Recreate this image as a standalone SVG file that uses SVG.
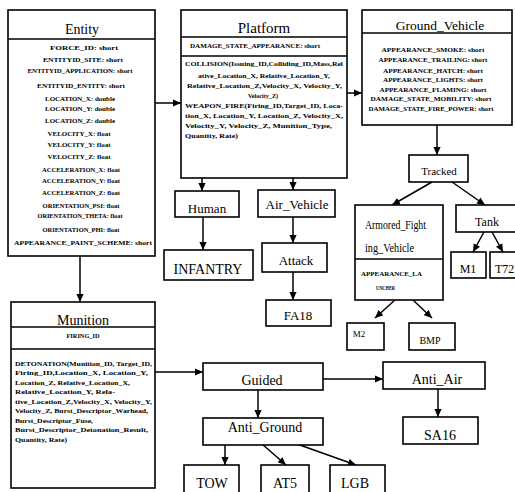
<svg xmlns="http://www.w3.org/2000/svg" width="515" height="492" viewBox="0 0 515 492">
  <style>
    .box { fill: #fff; stroke: #000; stroke-width: 1.6; }
    .div { stroke: #000; stroke-width: 1.4; fill: none; }
    .edge { stroke: #000; stroke-width: 1.5; fill: none; marker-end: url(#arrow); }
    text { font-family: "Liberation Serif", "Times New Roman", "DejaVu Serif", serif; fill: #000; }
    .title { text-anchor: middle; }
    .label { text-anchor: middle; }
    .attr { font-size: 7px; font-weight: bold; text-anchor: middle; }
    .op { font-size: 6.8px; font-weight: bold; }
  </style>
  <defs>
    <marker id="arrow" viewBox="0 0 10 10" refX="10" refY="5" markerWidth="8" markerHeight="8" markerUnits="userSpaceOnUse" orient="auto">
      <path d="M0,0.5 L10,5 L0,9.5 z" fill="#000"/>
    </marker>
  </defs>

  <rect width="515" height="492" fill="#fff"/>

  <!-- Connectors -->
  <g id="connectors">
    <line class="edge" x1="155" y1="103" x2="181" y2="103"/>
    <line class="edge" x1="347" y1="93" x2="362" y2="93"/>
    <line class="edge" x1="80" y1="256" x2="80" y2="302"/>
    <line class="edge" x1="202" y1="178" x2="202" y2="191"/>
    <line class="edge" x1="293" y1="178" x2="293" y2="190"/>
    <line class="edge" x1="203" y1="217" x2="203" y2="250"/>
    <line class="edge" x1="293" y1="217" x2="293" y2="243"/>
    <line class="edge" x1="293" y1="272" x2="293" y2="300"/>
    <line class="edge" x1="437" y1="125" x2="437" y2="155"/>
    <line class="edge" x1="432" y1="182" x2="392" y2="205"/>
    <line class="edge" x1="452" y1="182" x2="485" y2="205"/>
    <line class="edge" x1="484" y1="232" x2="473" y2="252"/>
    <line class="edge" x1="492" y1="232" x2="503" y2="252"/>
    <line class="edge" x1="395" y1="300" x2="375" y2="318"/>
    <line class="edge" x1="413" y1="300" x2="432" y2="318"/>
    <line class="edge" x1="155" y1="372" x2="203" y2="372"/>
    <line class="edge" x1="323" y1="379" x2="383" y2="379"/>
    <line class="edge" x1="258" y1="390" x2="258" y2="418"/>
    <line class="edge" x1="438" y1="389" x2="438" y2="417"/>
    <line class="edge" x1="225" y1="445" x2="225" y2="465"/>
    <line class="edge" x1="262" y1="444" x2="286" y2="465"/>
    <line class="edge" x1="297" y1="444" x2="356" y2="465"/>
  </g>

  <!-- Entity class -->
  <g id="entity">
    <rect class="box" x="8" y="10" width="147" height="246"/>
    <line class="div" x1="8" y1="39" x2="155" y2="39"/>
    <text class="title" x="82" y="34" style="font-size:14px">Entity</text>
    <text class="attr" x="84" y="49.5" textLength="68" lengthAdjust="spacingAndGlyphs">FORCE_ID: short</text>
    <text class="attr" x="83" y="61.5" textLength="80" lengthAdjust="spacingAndGlyphs">ENTITYID_SITE: short</text>
    <text class="attr" x="80" y="72.5" textLength="105" lengthAdjust="spacingAndGlyphs">ENTITYID_APPLICATION: short</text>
    <text class="attr" x="81" y="87.5" textLength="88" lengthAdjust="spacingAndGlyphs">ENTITYID_ENTITY: short</text>
    <text class="attr" x="80" y="100.5" textLength="70" lengthAdjust="spacingAndGlyphs">LOCATION_X: double</text>
    <text class="attr" x="80" y="110.5" textLength="70" lengthAdjust="spacingAndGlyphs">LOCATION_Y: double</text>
    <text class="attr" x="80" y="122.5" textLength="70" lengthAdjust="spacingAndGlyphs">LOCATION_Z: double</text>
    <text class="attr" x="79" y="135.5" textLength="63" lengthAdjust="spacingAndGlyphs">VELOCITY_X: float</text>
    <text class="attr" x="79" y="146.5" textLength="63" lengthAdjust="spacingAndGlyphs">VELOCITY_Y: float</text>
    <text class="attr" x="79" y="158.5" textLength="63" lengthAdjust="spacingAndGlyphs">VELOCITY_Z: float</text>
    <text class="attr" x="81" y="171.5" textLength="78" lengthAdjust="spacingAndGlyphs">ACCELERATION_X: float</text>
    <text class="attr" x="81" y="182.5" textLength="78" lengthAdjust="spacingAndGlyphs">ACCELERATION_Y: float</text>
    <text class="attr" x="81" y="194.5" textLength="78" lengthAdjust="spacingAndGlyphs">ACCELERATION_Z: float</text>
    <text class="attr" x="81" y="207.5" textLength="77" lengthAdjust="spacingAndGlyphs">ORIENTATION_PSI: float</text>
    <text class="attr" x="80" y="217.5" textLength="85" lengthAdjust="spacingAndGlyphs">ORIENTATION_THETA: float</text>
    <text class="attr" x="81" y="231.5" textLength="77" lengthAdjust="spacingAndGlyphs">ORIENTATION_PHI: float</text>
    <text class="attr" x="83" y="244.5" textLength="138" lengthAdjust="spacingAndGlyphs">APPEARANCE_PAINT_SCHEME: short</text>
  </g>

  <!-- Platform class -->
  <g id="platform">
    <rect class="box" x="181" y="10" width="166" height="168"/>
    <line class="div" x1="181" y1="37" x2="347" y2="37"/>
    <line class="div" x1="181" y1="56" x2="347" y2="56"/>
    <text class="title" x="264" y="33" style="font-size:15px">Platform</text>
    <text class="attr" x="255" y="47.5" textLength="130" lengthAdjust="spacingAndGlyphs">DAMAGE_STATE_APPEARANCE: short</text>
    <text class="op" x="185" y="65.5" textLength="158" lengthAdjust="spacingAndGlyphs">COLLISION(Issuing_ID,Colliding_ID,Mass,Rel</text>
    <text class="op" x="198" y="77.5" textLength="132" lengthAdjust="spacingAndGlyphs">ative_Location_X, Relative_Location_Y,</text>
    <text class="op" x="187" y="87.5" textLength="155" lengthAdjust="spacingAndGlyphs">Relative_Location_Z,Velocity_X, Velocity_Y,</text>
    <text class="op" x="248" y="97.5" textLength="30" lengthAdjust="spacingAndGlyphs">Velocity_Z)</text>
    <text class="op" x="185" y="107.5" textLength="158" lengthAdjust="spacingAndGlyphs">WEAPON_FIRE(Firing_ID,Target_ID, Loca-</text>
    <text class="op" x="185" y="117.5" textLength="158" lengthAdjust="spacingAndGlyphs">tion_X, Location_Y, Location_Z, Velocity_X,</text>
    <text class="op" x="185" y="127.5" textLength="147" lengthAdjust="spacingAndGlyphs">Velocity_Y, Velocity_Z, Munition_Type,</text>
    <text class="op" x="185" y="137.5" textLength="53" lengthAdjust="spacingAndGlyphs">Quantity, Rate)</text>
  </g>

  <!-- Ground_Vehicle class -->
  <g id="ground-vehicle">
    <rect class="box" x="362" y="10" width="150" height="115"/>
    <line class="div" x1="362" y1="33" x2="512" y2="33"/>
    <text class="title" x="440" y="30" style="font-size:13.5px">Ground_Vehicle</text>
    <text class="attr" x="433" y="51.5" textLength="103" lengthAdjust="spacingAndGlyphs">APPEARANCE_SMOKE: short</text>
    <text class="attr" x="433" y="61.5" textLength="109" lengthAdjust="spacingAndGlyphs">APPEARANCE_TRAILING: short</text>
    <text class="attr" x="433" y="72.5" textLength="100" lengthAdjust="spacingAndGlyphs">APPEARANCE_HATCH: short</text>
    <text class="attr" x="433" y="81.5" textLength="100" lengthAdjust="spacingAndGlyphs">APPEARANCE_LIGHTS: short</text>
    <text class="attr" x="433" y="91.5" textLength="107" lengthAdjust="spacingAndGlyphs">APPEARANCE_FLAMING: short</text>
    <text class="attr" x="431" y="100.5" textLength="121" lengthAdjust="spacingAndGlyphs">DAMAGE_STATE_MOBILITY: short</text>
    <text class="attr" x="431" y="110.5" textLength="125" lengthAdjust="spacingAndGlyphs">DAMAGE_STATE_FIRE_POWER: short</text>
  </g>

  <!-- Munition class -->
  <g id="munition">
    <rect class="box" x="11" y="302" width="144" height="186"/>
    <line class="div" x1="11" y1="327" x2="155" y2="327"/>
    <line class="div" x1="11" y1="349" x2="155" y2="349"/>
    <text class="title" x="83" y="325" style="font-size:14px">Munition</text>
    <text class="attr" x="83" y="338" textLength="33" lengthAdjust="spacingAndGlyphs">FIRING_ID</text>
    <text class="op" x="15" y="365.5" textLength="137" lengthAdjust="spacingAndGlyphs">DETONATION(Munition_ID, Target_ID,</text>
    <text class="op" x="15" y="375" textLength="133" lengthAdjust="spacingAndGlyphs">Firing_ID,Location_X, Location_Y,</text>
    <text class="op" x="15" y="384.5" textLength="115" lengthAdjust="spacingAndGlyphs">Location_Z, Relative_Location_X,</text>
    <text class="op" x="15" y="394" textLength="100" lengthAdjust="spacingAndGlyphs">Relative_Location_Y, Rela-</text>
    <text class="op" x="15" y="403.5" textLength="137" lengthAdjust="spacingAndGlyphs">tive_Location_Z,Velocity_X, Velocity_Y,</text>
    <text class="op" x="15" y="413" textLength="133" lengthAdjust="spacingAndGlyphs">Velocity_Z, Burst_Descriptor_Warhead,</text>
    <text class="op" x="15" y="422.5" textLength="78" lengthAdjust="spacingAndGlyphs">Burst_Descriptor_Fuse,</text>
    <text class="op" x="15" y="432" textLength="133" lengthAdjust="spacingAndGlyphs">Burst_Descriptor_Detonation_Result,</text>
    <text class="op" x="15" y="441.5" textLength="52" lengthAdjust="spacingAndGlyphs">Quantity, Rate)</text>
  </g>

  <!-- Platform subclasses -->
  <g id="human">
    <rect class="box" x="175" y="191" width="64" height="26"/>
    <text class="label" x="207" y="213" style="font-size:13px">Human</text>
  </g>
  <g id="infantry">
    <rect class="box" x="164" y="250" width="89" height="30"/>
    <text class="label" x="208" y="274" style="font-size:14px">INFANTRY</text>
  </g>
  <g id="air-vehicle">
    <rect class="box" x="258" y="190" width="77" height="27"/>
    <text class="label" x="297" y="209" style="font-size:13px">Air_Vehicle</text>
  </g>
  <g id="attack">
    <rect class="box" x="262" y="243" width="65" height="29"/>
    <text class="label" x="296" y="265" style="font-size:13px">Attack</text>
  </g>
  <g id="fa18">
    <rect class="box" x="266" y="300" width="65" height="26"/>
    <text class="label" x="298" y="320" style="font-size:13px">FA18</text>
  </g>

  <!-- Ground vehicle subclasses -->
  <g id="tracked">
    <rect class="box" x="409" y="155" width="59" height="27"/>
    <text class="label" x="439" y="175" style="font-size:11px">Tracked</text>
  </g>
  <g id="armored-fighting-vehicle">
    <rect class="box" x="355" y="205" width="88" height="95"/>
    <line class="div" x1="355" y1="259" x2="443" y2="259"/>
    <text class="label" x="365" y="229" style="font-size:12px;text-anchor:start" textLength="61" lengthAdjust="spacingAndGlyphs">Armored_Fight</text>
    <text class="label" x="365" y="252" style="font-size:12px;text-anchor:start" textLength="49" lengthAdjust="spacingAndGlyphs">ing_Vehicle</text>
    <text class="attr" x="361" y="275.5" style="text-anchor:start" textLength="61" lengthAdjust="spacingAndGlyphs">APPEARANCE_LA</text>
    <text class="attr" x="376" y="289.5" style="text-anchor:start" textLength="19" lengthAdjust="spacingAndGlyphs">UNCHER</text>
  </g>
  <g id="tank">
    <rect class="box" x="456" y="205" width="64" height="27"/>
    <text class="label" x="487" y="226" style="font-size:12px">Tank</text>
  </g>
  <g id="m1">
    <rect class="box" x="451" y="252" width="35" height="26"/>
    <text class="label" x="468" y="273" style="font-size:12px">M1</text>
  </g>
  <g id="t72">
    <rect class="box" x="490" y="252" width="35" height="26"/>
    <text class="label" x="495" y="273" style="font-size:12px;text-anchor:start">T72</text>
  </g>
  <g id="m2">
    <rect class="box" x="347" y="323" width="37" height="27"/>
    <text class="label" x="359" y="337" style="font-size:9px">M2</text>
  </g>
  <g id="bmp">
    <rect class="box" x="409" y="323" width="46" height="27"/>
    <text class="label" x="430" y="344" style="font-size:10px">BMP</text>
  </g>

  <!-- Munition subclasses -->
  <g id="guided">
    <rect class="box" x="203" y="363" width="120" height="27"/>
    <text class="label" x="262" y="385" style="font-size:14px">Guided</text>
  </g>
  <g id="anti-air">
    <rect class="box" x="383" y="362" width="102" height="27"/>
    <text class="label" x="437" y="384" style="font-size:14px">Anti_Air</text>
  </g>
  <g id="sa16">
    <rect class="box" x="403" y="417" width="75" height="27"/>
    <text class="label" x="440" y="440" style="font-size:14px">SA16</text>
  </g>
  <g id="anti-ground">
    <rect class="box" x="203" y="418" width="120" height="27"/>
    <text class="label" x="265" y="432" style="font-size:14px">Anti_Ground</text>
  </g>
  <g id="tow">
    <rect class="box" x="184" y="465" width="55" height="30"/>
    <text class="label" x="212" y="488" style="font-size:14px">TOW</text>
  </g>
  <g id="at5">
    <rect class="box" x="261" y="465" width="48" height="30"/>
    <text class="label" x="285" y="488" style="font-size:14px">AT5</text>
  </g>
  <g id="lgb">
    <rect class="box" x="330" y="465" width="55" height="30"/>
    <text class="label" x="355" y="488" style="font-size:14px">LGB</text>
  </g>
</svg>
